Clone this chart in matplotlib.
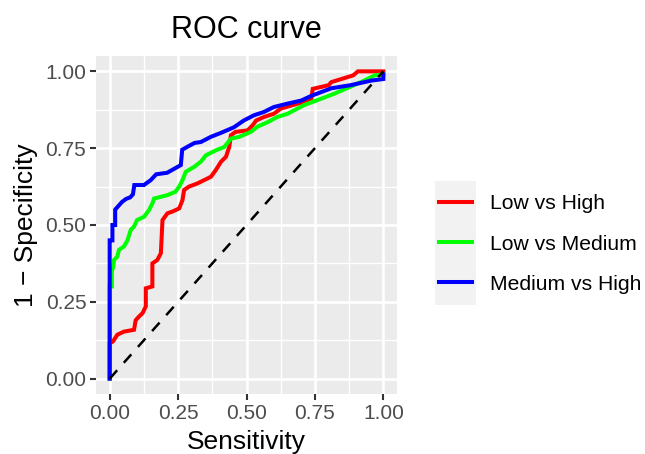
import matplotlib
matplotlib.use('Agg')
import matplotlib.pyplot as plt
from matplotlib.lines import Line2D
from matplotlib.patches import Rectangle

plt.rcParams['font.family'] = ['Liberation Sans', 'DejaVu Sans']

# curve vertices
labels = ['Low vs High', 'Low vs Medium', 'Medium vs High']
colors = ['#FF0000', '#00FF00', '#0000FF']

low_high_x = [0, 0, 0.012, 0.028, 0.052, 0.089, 0.095, 0.107, 0.12, 0.132, 0.132, 0.156, 0.156,
              0.174, 0.187, 0.193, 0.211, 0.23, 0.254, 0.266, 0.272, 0.29, 0.32, 0.345, 0.37,
              0.388, 0.407, 0.425, 0.437, 0.443, 0.46, 0.504, 0.523, 0.535, 0.565, 0.60, 0.626,
              0.687, 0.736, 0.742, 0.80, 0.81, 0.85, 0.89, 0.907, 1.0]
low_high_y = [0, 0.115, 0.121, 0.143, 0.153, 0.159, 0.19, 0.202, 0.213, 0.235, 0.294, 0.30, 0.375,
              0.386, 0.408, 0.516, 0.538, 0.544, 0.554, 0.581, 0.614, 0.625, 0.635, 0.646, 0.657,
              0.679, 0.706, 0.722, 0.754, 0.792, 0.803, 0.808, 0.825, 0.84, 0.852, 0.862, 0.879,
              0.895, 0.905, 0.943, 0.955, 0.965, 0.976, 0.987, 1.0, 1.0]

low_med_x = [0, 0, 0.008, 0.008, 0.012, 0.016, 0.028, 0.034, 0.052, 0.065, 0.077, 0.089, 0.10,
             0.126, 0.144, 0.156, 0.162, 0.21, 0.24, 0.254, 0.266, 0.278, 0.31, 0.333, 0.352,
             0.388, 0.419, 0.443, 0.474, 0.516, 0.54, 0.578, 0.614, 0.65, 0.71, 0.773, 0.82,
             0.88, 0.93, 0.968, 1.0]
low_med_y = [0, 0.30, 0.30, 0.35, 0.36, 0.386, 0.397, 0.419, 0.43, 0.45, 0.484, 0.495, 0.516,
             0.527, 0.549, 0.57, 0.586, 0.597, 0.608, 0.625, 0.646, 0.673, 0.69, 0.706, 0.727,
             0.743, 0.754, 0.781, 0.787, 0.803, 0.82, 0.835, 0.852, 0.862, 0.89, 0.911, 0.927,
             0.95, 0.97, 0.987, 0.99]

med_high_x = [0, 0, 0.01, 0.01, 0.02, 0.02, 0.03, 0.045, 0.06, 0.075, 0.085, 0.09, 0.125, 0.15,
              0.17, 0.21, 0.23, 0.26, 0.265, 0.285, 0.31, 0.333, 0.37, 0.407, 0.454, 0.49, 0.527,
              0.564, 0.60, 0.65, 0.70, 0.736, 0.81, 0.88, 0.956, 1.0, 1.0]
med_high_y = [0, 0.45, 0.45, 0.50, 0.50, 0.55, 0.56, 0.575, 0.585, 0.59, 0.60, 0.63, 0.63, 0.646,
              0.665, 0.67, 0.68, 0.695, 0.745, 0.755, 0.767, 0.77, 0.787, 0.80, 0.818, 0.84, 0.857,
              0.868, 0.884, 0.895, 0.905, 0.92, 0.945, 0.955, 0.97, 0.975, 0.99]

ticks = [0.0, 0.25, 0.5, 0.75, 1.0]
tick_labels = ['0.00', '0.25', '0.50', '0.75', '1.00']
minor_ticks = [0.125, 0.375, 0.625, 0.875]

fig = plt.figure(figsize=(6.45, 4.54), dpi=100)
ax = fig.add_axes([96 / 645, 60 / 454, 301 / 645, 338 / 454])
ax.set_facecolor('#EBEBEB')

curves = [(low_high_x, low_high_y), (low_med_x, low_med_y), (med_high_x, med_high_y)]
for (xs, ys), col, lab in zip(curves, colors, labels):
    ax.plot(xs, ys, color=col, lw=2.9, label=lab, solid_joinstyle='miter')

# chance line
ax.plot([0, 1], [0, 1], color='black', lw=1.8, linestyle=(0, (4.5, 4)))

ax.set_xlim(-0.05, 1.05)
ax.set_ylim(-0.05, 1.05)
ax.set_xticks(ticks)
ax.set_xticklabels(tick_labels)
ax.set_yticks(ticks)
ax.set_yticklabels(tick_labels)
ax.set_xticks(minor_ticks, minor=True)
ax.set_yticks(minor_ticks, minor=True)
ax.grid(which='major', color='white', lw=1.9)
ax.grid(which='minor', color='white', lw=1.0)
ax.set_axisbelow(True)
for s in ax.spines.values():
    s.set_visible(False)
ax.tick_params(which='major', length=4, width=1.5, color='#333333',
               labelsize=15, labelcolor='#4D4D4D', pad=3)
ax.tick_params(which='minor', length=0)

ax.set_xlabel('Sensitivity', fontsize=19, labelpad=5)
ax.set_ylabel('1 \u2212 Specificity', fontsize=19, labelpad=5)
ax.set_title('ROC curve', fontsize=22, pad=13)

# legend with ggplot-like key background
fig.patches.append(Rectangle((435 / 645, (454 - 305) / 454), 41 / 645, 124 / 454,
                             transform=fig.transFigure, facecolor='#F2F2F2',
                             edgecolor='none', zorder=0))
handles = [Line2D([], [], color=c, lw=2.9) for c in colors]
fig.legend(handles, labels, loc='center left', bbox_to_anchor=(439 / 645, (454 - 244) / 454),
           frameon=False, fontsize=15.2, handlelength=1.55, handletextpad=0.85,
           labelspacing=1.0, borderpad=0, borderaxespad=0)

fig.savefig('out.png', dpi=100)
